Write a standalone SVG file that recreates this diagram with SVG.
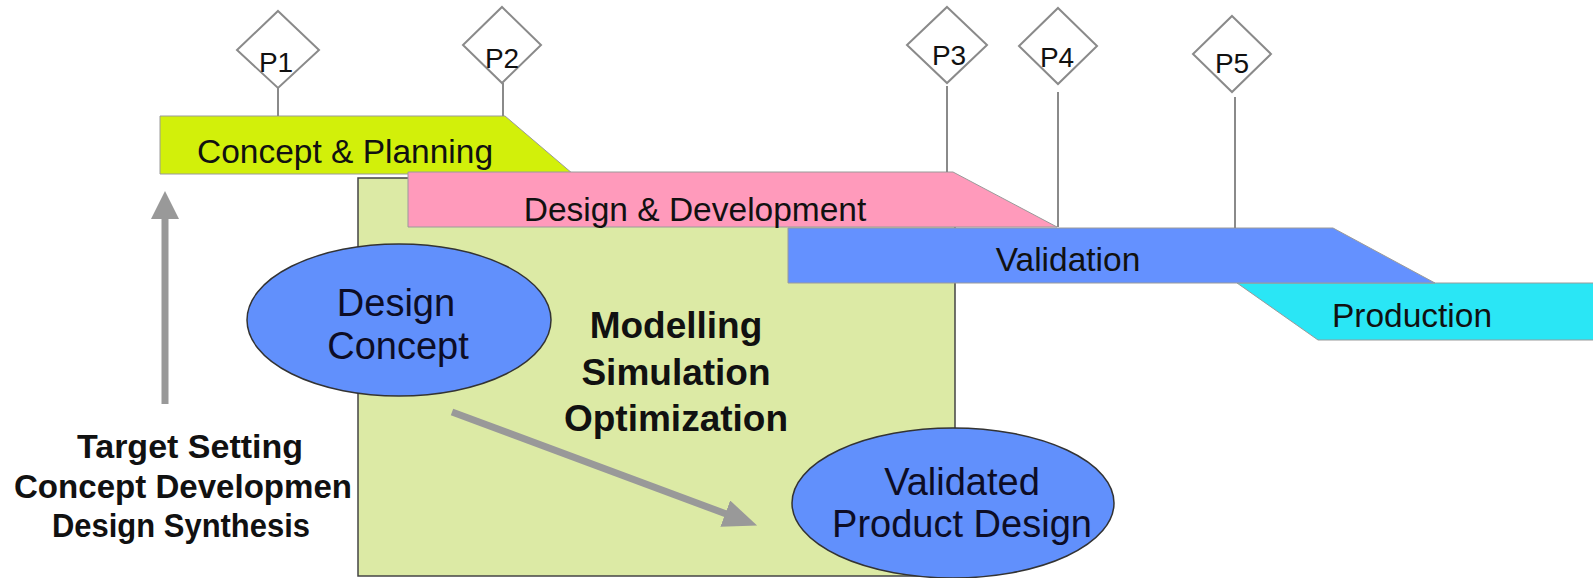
<svg xmlns="http://www.w3.org/2000/svg" width="1593" height="578" viewBox="0 0 1593 578">
<style>
.phase{stroke:#9a9a9a;stroke-width:1}
.lbl{font-family:"Liberation Sans",Arial,sans-serif;font-size:33.5px;fill:#111;text-anchor:middle}
.ell{fill:#6190fc;stroke:#333;stroke-width:1.5}
.elbl{font-family:"Liberation Sans",Arial,sans-serif;font-size:38px;fill:#0d0d26;text-anchor:middle}
.bold{font-family:"Liberation Sans",Arial,sans-serif;font-weight:bold;fill:#111;text-anchor:middle}
.dia{fill:#fff;stroke:#8a8a8a;stroke-width:2}
.plbl{font-family:"Liberation Sans",Arial,sans-serif;font-size:28px;fill:#111;text-anchor:middle}
.stem{stroke:#8a8a8a;stroke-width:2;fill:none}
.arrow{stroke:#999;stroke-width:7;fill:none}
</style>
<defs>
<marker id="ah" markerUnits="userSpaceOnUse" viewBox="0 0 34 28" refX="4" refY="14" markerWidth="34" markerHeight="28" orient="auto">
<path d="M0,0 L34,14 L0,28 Z" fill="#999"/>
</marker>
<marker id="ah2" markerUnits="userSpaceOnUse" viewBox="0 0 28 28" refX="4" refY="14" markerWidth="28" markerHeight="28" orient="auto">
<path d="M0,0 L28,14 L0,28 Z" fill="#999"/>
</marker>
</defs>
<rect width="1593" height="578" fill="#fff"/>

<g id="modelling-box">
<rect x="358" y="178" width="597" height="398" fill="#dceaa5" stroke="#444" stroke-width="1.5"/>
<text class="bold" font-size="37" x="676" y="338">Modelling</text>
<text class="bold" font-size="37" x="676" y="385">Simulation</text>
<text class="bold" font-size="37" x="676" y="431">Optimization</text>
</g>

<g id="concept-planning">
<polygon class="phase" points="160,116 505,116 573,174 160,174" fill="#d2f00a"/>
<text class="lbl" x="345" y="163">Concept &amp; Planning</text>
</g>

<g id="production">
<polygon class="phase" points="1237,283 1594,283 1594,340 1318,340" fill="#2ae6f5"/>
<text class="lbl" x="1412" y="327">Production</text>
</g>

<g id="design-development">
<polygon class="phase" points="408,172 953,172 1057,227 408,227" fill="#ff9abb"/>
<text class="lbl" x="695" y="221">Design &amp; Development</text>
</g>

<g id="validation">
<polygon class="phase" points="788,228 1333,228 1435,283 788,283" fill="#6491ff"/>
<text class="lbl" x="1068" y="271">Validation</text>
</g>

<g id="design-concept">
<ellipse class="ell" cx="399" cy="320" rx="152" ry="76"/>
<text class="elbl" x="396" y="316">Design</text>
<text class="elbl" x="398" y="359">Concept</text>
</g>

<g id="validated-product-design">
<ellipse class="ell" cx="953" cy="503" rx="161" ry="75"/>
<text class="elbl" x="962" y="495">Validated</text>
<text class="elbl" x="962" y="537">Product Design</text>
</g>

<g id="left-text">
<text class="bold" font-size="33" x="190" y="458" textLength="226" lengthAdjust="spacingAndGlyphs">Target Setting</text>
<text class="bold" font-size="33" x="183" y="498" textLength="338" lengthAdjust="spacingAndGlyphs">Concept Developmen</text>
<text class="bold" font-size="33" x="181" y="537" textLength="258" lengthAdjust="spacingAndGlyphs">Design Synthesis</text>
</g>

<g id="milestones">
<g id="P1"><polygon class="dia" points="278,11 319,50 278,88 237,50"/><text class="plbl" x="276" y="72">P1</text></g>
<g id="P2"><polygon class="dia" points="502,7 541,45 502,83 463,45"/><text class="plbl" x="502" y="68">P2</text></g>
<g id="P3"><polygon class="dia" points="947,7 987,45 947,83 907,45"/><text class="plbl" x="949" y="65">P3</text></g>
<g id="P4"><polygon class="dia" points="1058,8 1097,46 1058,84 1019,46"/><text class="plbl" x="1057" y="67">P4</text></g>
<g id="P5"><polygon class="dia" points="1232,16 1271,54 1232,92 1193,54"/><text class="plbl" x="1232" y="73">P5</text></g>
</g>

<g id="connectors">
<line class="stem" x1="278" y1="88" x2="278" y2="116"/>
<line class="stem" x1="503" y1="83" x2="503" y2="116"/>
<line class="stem" x1="947" y1="86" x2="947" y2="172"/>
<line class="stem" x1="1058" y1="92" x2="1058" y2="227"/>
<line class="stem" x1="1235" y1="97" x2="1235" y2="228"/>
<line class="arrow" x1="165" y1="404" x2="165" y2="215" marker-end="url(#ah2)"/>
<line class="arrow" x1="452" y1="412" x2="729" y2="515" marker-end="url(#ah)"/>
</g>
</svg>
